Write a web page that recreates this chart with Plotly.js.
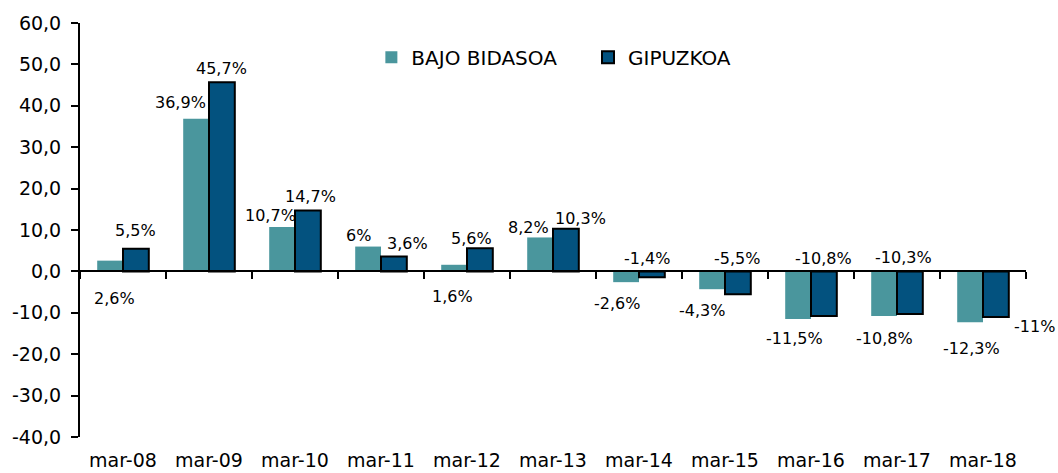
<!DOCTYPE html>
<html>
<head>
<meta charset="utf-8">
<script src="https://cdn.plot.ly/plotly-3.0.1.min.js"></script>
<style>html,body{margin:0;padding:0;background:#fff;}#chart{width:1058px;height:473px;}</style>
</head>
<body>
<div id="chart"></div>
<script>
// ---- data ----
const categories = ['mar-08','mar-09','mar-10','mar-11','mar-12','mar-13','mar-14','mar-15','mar-16','mar-17','mar-18'];
const bajoBidasoa = [2.6, 36.9, 10.7, 6, 1.6, 8.2, -2.6, -4.3, -11.5, -10.8, -12.3];
const gipuzkoa = [5.5, 45.7, 14.7, 3.6, 5.6, 10.3, -1.4, -5.5, -10.8, -10.3, -11];
const yTickVals = [60, 50, 40, 30, 20, 10, 0, -10, -20, -30, -40];
const yTickText = ['60,0','50,0','40,0','30,0','20,0','10,0','0,0','-10,0','-20,0','-30,0','-40,0'];

// ---- label placement (pixel offsets from bar end) ----
const bajoLabelDx = [4, -16, -12, -10, -2, -12, -9, -10, -4, 0, 1];
const bajoLabelDy = [-38, 16, 12, 11, -32, 10, -21, -21, -19, -22, -26];
const gipLabelDx = [0, 0, 3, 14, -8, 15, -5, -1, 0, -6, 39];
const gipLabelDy = [18, 14, 14, 13, 10, 10, 19, 36, 58, 57, -10];

const FONT = 'DejaVu Sans, Liberation Sans, Arial, sans-serif';
const TEAL = '#4a969d';
const NAVY = '#03527f';
const bargap = 0.4;
const half = (1 - bargap) / 4;
const xRange = [-0.5, categories.length - 0.5];

const fmt = v => String(v).replace('.', ',') + '%';

const traces = [
  {type:'bar', name:'BAJO BIDASOA', x:categories, y:bajoBidasoa, legend:'legend',
   marker:{color:TEAL, line:{width:0}}, hoverinfo:'skip'},
  {type:'bar', name:'GIPUZKOA', x:categories, y:gipuzkoa, legend:'legend2',
   marker:{color:NAVY, line:{color:'#000', width:2}}, hoverinfo:'skip'},
  {type:'scatter', mode:'markers', x:categories, y:bajoBidasoa, xaxis:'x2', yaxis:'y',
   marker:{opacity:0}, showlegend:false, hoverinfo:'skip'}
];

const annotations = [];
categories.forEach((c, i) => {
  annotations.push({xref:'x', yref:'y', x:i - half, y:bajoBidasoa[i], text:fmt(bajoBidasoa[i]),
    showarrow:false, xshift:bajoLabelDx[i], yshift:bajoLabelDy[i],
    font:{family:FONT, size:16, color:'#000'}});
  annotations.push({xref:'x', yref:'y', x:i + half, y:gipuzkoa[i], text:fmt(gipuzkoa[i]),
    showarrow:false, xshift:gipLabelDx[i], yshift:gipLabelDy[i],
    font:{family:FONT, size:16, color:'#000'}});
});

const legendCommon = {orientation:'h', xanchor:'left', y:0.917, yanchor:'middle',
  font:{family:FONT, size:20, color:'#000'}, bgcolor:'rgba(0,0,0,0)', itemwidth:30};

const layout = {
  width:1058, height:473,
  margin:{l:80, r:32, t:23, b:36, pad:0},
  paper_bgcolor:'#fff', plot_bgcolor:'#fff',
  barmode:'group', bargap:bargap, bargroupgap:0,
  showlegend:true,
  legend:Object.assign({x:0.308}, legendCommon),
  legend2:Object.assign({x:0.537}, legendCommon),
  xaxis:{type:'category', range:xRange, autorange:false, anchor:'free', position:0.4,
    showline:true, linecolor:'#000', linewidth:2,
    ticks:'outside', tickson:'boundaries', ticklen:7, tickwidth:2, tickcolor:'#000',
    showticklabels:false, showgrid:false, zeroline:false, fixedrange:true},
  xaxis2:{type:'category', range:xRange, autorange:false, overlaying:'x', anchor:'y', side:'bottom',
    showline:false, ticks:'', showgrid:false, zeroline:false,
    tickfont:{family:FONT, size:19, color:'#000'}, ticklabelstandoff:10},
  yaxis:{range:[-40, 60], autorange:false, tickmode:'array', tickvals:yTickVals, ticktext:yTickText,
    showline:true, linecolor:'#000', linewidth:2, ticks:'outside', ticklen:7, tickwidth:2, tickcolor:'#000',
    showgrid:false, zeroline:false, tickfont:{family:FONT, size:19, color:'#000'}, ticklabelstandoff:6},
  annotations:annotations
};

Plotly.newPlot('chart', traces, layout, {displayModeBar:false, staticPlot:true});
</script>
</body>
</html>
